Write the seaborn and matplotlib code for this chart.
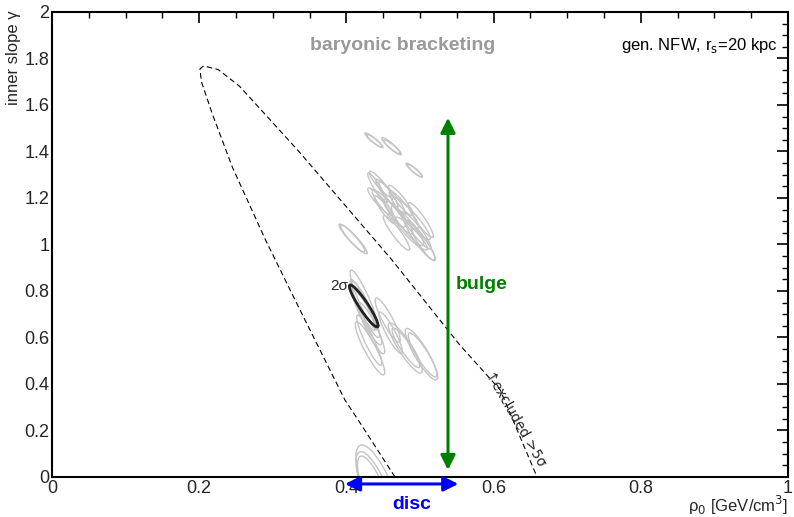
import numpy as np
import pandas as pd
import matplotlib
matplotlib.use("Agg")
import matplotlib.pyplot as plt
import seaborn as sns
from matplotlib.ticker import MultipleLocator

sns.set_theme(style="white")
plt.rcParams['font.family'] = ['Liberation Sans', 'DejaVu Sans']

# ---- data ----
x_ticks = [0, 0.2, 0.4, 0.6, 0.8, 1.0]
x_tick_labels = ["0", "0.2", "0.4", "0.6", "0.8", "1"]
y_ticks = [0, 0.2, 0.4, 0.6, 0.8, 1.0, 1.2, 1.4, 1.6, 1.8, 2.0]
y_tick_labels = ["0", "0.2", "0.4", "0.6", "0.8", "1", "1.2", "1.4", "1.6", "1.8", "2"]

# 5 sigma exclusion contour (dashed)
contour_x = [0.466, 0.416, 0.398, 0.337, 0.290, 0.245, 0.218, 0.203, 0.201, 0.206, 0.226,
             0.255, 0.336, 0.462, 0.554, 0.609, 0.659]
contour_y = [0.0, 0.245, 0.331, 0.718, 1.02, 1.333, 1.56, 1.70, 1.755, 1.768, 1.752,
             1.680, 1.398, 0.933, 0.568, 0.374, 0.0]

# baryonic-model 2 sigma ellipses: centre, half extents, correlation
ell_cx = [0.4365, 0.4385, 0.4605, 0.4625, 0.492, 0.493,
          0.442, 0.4455, 0.4575, 0.4735, 0.488, 0.500, 0.488, 0.501, 0.470, 0.455, 0.495,
          0.446, 0.462, 0.478, 0.483, 0.505, 0.452, 0.468,
          0.4075, 0.410,
          0.424, 0.428, 0.432, 0.431, 0.456, 0.480, 0.481, 0.502, 0.5035, 0.422, 0.426,
          0.434, 0.460,
          0.445, 0.440, 0.437]
ell_cy = [1.450, 1.445, 1.425, 1.418, 1.320, 1.317,
          1.243, 1.185, 1.155, 1.190, 1.112, 1.019, 1.047, 1.105, 1.120, 1.220, 1.060,
          1.260, 1.200, 1.150, 1.080, 1.000, 1.150, 1.050,
          1.028, 1.022,
          0.761, 0.686, 0.553, 0.588, 0.675, 0.555, 0.555, 0.528, 0.525, 0.740, 0.720,
          0.640, 0.620,
          -0.069, -0.066, -0.055]
ell_sx = [0.0115, 0.0110, 0.0125, 0.0120, 0.011, 0.010,
          0.013, 0.0165, 0.0225, 0.0165, 0.026, 0.020, 0.022, 0.017, 0.020, 0.015, 0.020,
          0.015, 0.018, 0.020, 0.022, 0.016, 0.014, 0.018,
          0.0175, 0.018,
          0.019, 0.020, 0.020, 0.017, 0.017, 0.023, 0.019, 0.022, 0.0195, 0.017, 0.019,
          0.018, 0.016,
          0.032, 0.027, 0.022]
ell_sy = [0.030, 0.028, 0.035, 0.032, 0.030, 0.027,
          0.065, 0.058, 0.080, 0.065, 0.092, 0.086, 0.071, 0.075, 0.075, 0.060, 0.080,
          0.055, 0.070, 0.080, 0.085, 0.070, 0.060, 0.075,
          0.060, 0.062,
          0.129, 0.118, 0.114, 0.108, 0.095, 0.108, 0.085, 0.111, 0.095, 0.110, 0.120,
          0.110, 0.090,
          0.207, 0.175, 0.145]
ell_rho = [-0.92, -0.92, -0.92, -0.92, -0.92, -0.92,
           -0.92, -0.91, -0.92, -0.91, -0.92, -0.91, -0.91, -0.91, -0.92, -0.91, -0.92,
           -0.91, -0.92, -0.92, -0.91, -0.91, -0.92, -0.92,
           -0.93, -0.93,
           -0.91, -0.91, -0.90, -0.91, -0.89, -0.89, -0.90, -0.88, -0.89, -0.92, -0.91,
           -0.90, -0.90,
           -0.75, -0.75, -0.75]

# highlighted ellipse (2 sigma)
hl_cx, hl_cy, hl_sx, hl_sy, hl_rho = 0.4235, 0.7355, 0.0195, 0.0905, -0.93

# bulge / disc ranges
bulge_x = 0.538
bulge_y = [0.03, 1.545]
disc_x = [0.398, 0.552]
disc_y = -0.03


def ellipse_points(cx, cy, sx, sy, rho, n=200):
    t = np.linspace(0, 2 * np.pi, n)
    x = cx + sx * np.cos(t)
    y = cy + sy * (rho * np.cos(t) + np.sqrt(1 - rho ** 2) * np.sin(t))
    return x, y


rows = []
for i, (cx, cy, sx, sy, r) in enumerate(zip(ell_cx, ell_cy, ell_sx, ell_sy, ell_rho)):
    ex, ey = ellipse_points(cx, cy, sx, sy, r)
    for k, (a, b) in enumerate(zip(ex, ey)):
        rows.append((i, k, a, b))
ell_df = pd.DataFrame(rows, columns=["id", "k", "x", "y"])

hx, hy = ellipse_points(hl_cx, hl_cy, hl_sx, hl_sy, hl_rho)
hl_df = pd.DataFrame({"x": hx, "y": hy, "k": np.arange(len(hx))})
cont_df = pd.DataFrame({"x": contour_x, "y": contour_y})

fig = plt.figure(figsize=(7.94, 5.17), dpi=100)
ax = fig.add_axes([0.0655, 0.0774, 0.9270, 0.8994])

sns.lineplot(data=ell_df, x="x", y="y", units="id", estimator=None, sort=False,
             color="#c4c4c4", lw=1.0, ax=ax, legend=False)
sns.lineplot(data=hl_df, x="x", y="y", estimator=None, sort=False,
             color="#222222", lw=2.0, ax=ax, legend=False)
sns.lineplot(data=cont_df, x="x", y="y", estimator=None, sort=False,
             color="black", lw=0.8, ax=ax, legend=False)
ax.lines[-1].set_dashes([5, 3])

ax.set_xlim(0, 1)
ax.set_ylim(0, 2)
ax.set_xticks(x_ticks)
ax.set_xticklabels(x_tick_labels)
ax.set_yticks(y_ticks)
ax.set_yticklabels(y_tick_labels)
ax.xaxis.set_minor_locator(MultipleLocator(0.05))
ax.yaxis.set_minor_locator(MultipleLocator(0.05))
ax.tick_params(which="both", direction="in", top=True, right=True, color="black",
               labelsize=13, pad=2)
ax.tick_params(which="major", length=8, width=1.2)
ax.tick_params(which="minor", length=4, width=1.0)
for s in ax.spines.values():
    s.set_color("black")
    s.set_linewidth(1.5)

ax.set_xlabel("")
ax.set_ylabel("")
fig.text(0.007, 0.979, "inner slope γ", rotation=90, ha="left", va="top", fontsize=12)
fig.text(0.9924, 0.0, r"ρ$_0$ [GeV/cm$^3$]", ha="right", va="bottom", fontsize=12,
         math_fontfamily="dejavusans")

# bulge arrow
ax.annotate("", xy=(bulge_x, bulge_y[1]), xytext=(bulge_x, bulge_y[0]),
            arrowprops=dict(arrowstyle="<|-|>", color="green", lw=2.2,
                            mutation_scale=22, shrinkA=0, shrinkB=0))
ax.text(0.549, 0.826, "bulge", color="green", fontsize=14, fontweight="bold",
        ha="left", va="center")

# disc arrow (below axis)
ax.annotate("", xy=(disc_x[1], disc_y), xytext=(disc_x[0], disc_y),
            arrowprops=dict(arrowstyle="<|-|>", color="blue", lw=2.2,
                            mutation_scale=22, shrinkA=0, shrinkB=0),
            annotation_clip=False)
ax.text(0.489, -0.12, "disc", color="blue", fontsize=14, fontweight="bold",
        ha="center", va="center", clip_on=False)

ax.text(0.476, 1.858, "baryonic bracketing", color="#999999", fontsize=14,
        fontweight="bold", ha="center", va="center")
ax.text(0.986, 1.858, r"gen. NFW, r$_{\mathrm{s}}$=20 kpc", color="black", fontsize=12,
        ha="right", va="center", math_fontfamily="dejavusans")
ax.text(0.402, 0.82, "2σ", fontsize=11, ha="right", va="center")
ax.text(0.630, 0.252, "↑excluded >5σ", fontsize=10, rotation=-60,
        ha="center", va="center", rotation_mode="anchor",
        family=["DejaVu Sans"])

fig.savefig("out.png", dpi=100)
